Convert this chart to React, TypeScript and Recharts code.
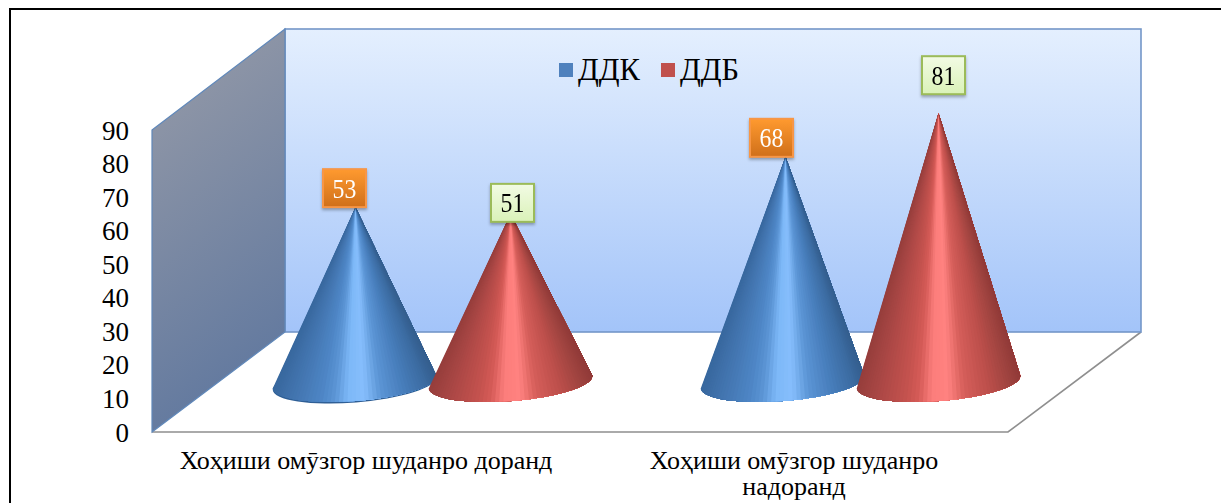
import React from "react";
import { BarChart, Bar, XAxis, YAxis, Legend, LabelList, Customized } from "recharts";

const categories = ["Хоҳиши омӯзгор шуданро доранд", "Хоҳиши омӯзгор шуданро надоранд"];
const seriesNames = ["ДДК", "ДДБ"];
const ddkValues = [53, 68];
const ddbValues = [51, 81];
const yTicks = [0, 10, 20, 30, 40, 50, 60, 70, 80, 90];

const chartData = categories.map((category, i) => ({ category, ddk: ddkValues[i], ddb: ddbValues[i] }));

const W = 1221;
const H = 503;
const PLOT = { left: 152, right: 1008, top: 130, bottom: 432 };
const DEPTH_X = 133;
const DEPTH_Y = 100;
const SHIFT_X = DEPTH_X / 2;
const FONT = "'Liberation Serif', serif";

// ---- cone shading: stops are [position across the cone, r, g, b]
type Stop = [number, number, number, number];
const blueStops: Stop[] = [
  [0, 56, 104, 158], [0.12, 66, 116, 174], [0.3, 78, 134, 198], [0.38, 92, 150, 214], [0.46, 125, 184, 248],
  [0.56, 134, 190, 252], [0.66, 92, 150, 214], [0.8, 72, 126, 188], [0.93, 60, 108, 162], [1, 52, 94, 142],
];
const redStops: Stop[] = [
  [0, 150, 62, 60], [0.14, 172, 72, 70], [0.3, 196, 82, 78], [0.38, 214, 92, 88], [0.46, 252, 126, 124],
  [0.56, 255, 130, 128], [0.66, 214, 94, 90], [0.8, 190, 80, 76], [0.93, 160, 68, 64], [1, 145, 58, 56],
];

function shade(stops: Stop[], u: number) {
  for (let i = 1; i < stops.length; i++) {
    if (u <= stops[i][0]) {
      const a = stops[i - 1];
      const b = stops[i];
      const k = (u - a[0]) / (b[0] - a[0]);
      const c = [1, 2, 3].map((j) => Math.round(a[j] + (b[j] - a[j]) * k));
      return `rgb(${c[0]},${c[1]},${c[2]})`;
    }
  }
  const l = stops[stops.length - 1];
  return `rgb(${l[1]},${l[2]},${l[3]})`;
}

const APEX_LIFT = 47;
const BASE_LIFT = 50;
const RY = 19;
const TILT = (-4.5 * Math.PI) / 180;
const SLICES = 60;
const ddkLean = [1, 3];
const ddbLean = [0, 0];

function Cone(props: any) {
  const { x, y, width, stops, rim, index, lean } = props;
  const cx = x + width / 2 + SHIFT_X;
  const R = width / 2 + 4;
  const cy = PLOT.bottom - BASE_LIFT;
  const apexX = cx + lean[index];
  const apexY = y - APEX_LIFT;
  const pts: number[][] = [];
  for (let i = 0; i <= SLICES; i++) {
    const phi = Math.PI * (1 - i / SLICES);
    const ex = R * Math.cos(phi);
    const ey = RY * Math.sin(phi);
    pts.push([cx + ex * Math.cos(TILT) - ey * Math.sin(TILT), cy + ex * Math.sin(TILT) + ey * Math.cos(TILT)]);
  }
  // each slice is painted from its own left edge to the far right, so no seams let the background through
  const slices = [];
  for (let i = 0; i < SLICES; i++) {
    const u = ((pts[i][0] + pts[i + 1][0]) / 2 - (cx - R)) / (2 * R);
    const col = shade(stops, Math.max(0, Math.min(1, u)));
    const path = pts.slice(i).map((p) => `${p[0]},${p[1]}`).join(" ");
    slices.push(<polygon key={i} points={`${apexX},${apexY} ${path}`} fill={col} />);
  }
  return (
    <g>
      {rim && index === 0 ? (
        <ellipse cx={cx} cy={cy + 1.5} rx={R} ry={RY} fill="#2f5f96" transform={`rotate(-4.5 ${cx} ${cy + 1.5})`} />
      ) : null}
      {slices}
    </g>
  );
}

// ---- walls and floor of the 3D box
function Box() {
  const { left: l, right: r, top: t, bottom: b } = PLOT;
  const backL = l + DEPTH_X;
  const backR = r + DEPTH_X;
  const backB = b - DEPTH_Y;
  const backT = t - 101;
  return (
    <g>
      <defs>
        <linearGradient id="backWall" x1="0" y1="0" x2="0" y2="1">
          <stop offset="0" stopColor="#e4effe" />
          <stop offset="1" stopColor="#a3c4f9" />
        </linearGradient>
        <linearGradient id="sideWall" x1="0" y1="0" x2="0.25" y2="1">
          <stop offset="0" stopColor="#989ca8" />
          <stop offset="1" stopColor="#62799f" />
        </linearGradient>
        <linearGradient id="orangeBox" x1="0" y1="0" x2="0" y2="1">
          <stop offset="0" stopColor="#ff9a2f" />
          <stop offset="1" stopColor="#cf6f1a" />
        </linearGradient>
        <linearGradient id="greenBox" x1="0" y1="0" x2="0" y2="1">
          <stop offset="0" stopColor="#f2fbe4" />
          <stop offset="1" stopColor="#daf2b8" />
        </linearGradient>
      </defs>
      <polygon points={`${l},${b} ${backL},${backB} ${backR},${backB} ${r},${b}`} fill="#ffffff" stroke="none" />
      <polyline points={`${l},${b} ${r},${b} ${backR},${backB}`} fill="none" stroke="#8f8f8f" strokeWidth={1.6} />
      <rect x={backL} y={backT} width={backR - backL} height={backB - backT} fill="url(#backWall)" stroke="#7496c8" strokeWidth={1.6} />
      <polygon points={`${l},${t} ${backL},${backT} ${backL},${backB} ${l},${b}`} fill="url(#sideWall)" stroke="#6088ba" strokeWidth={1.2} />
    </g>
  );
}

// ---- x tick labels wrapped as the original wraps them
const WRAP_CHARS = 30;
function wrapLabel(s: string) {
  const lines: string[] = [];
  let cur = "";
  s.split(" ").forEach((w) => {
    const next = cur ? cur + " " + w : w;
    if (next.length > WRAP_CHARS) {
      lines.push(cur);
      cur = w;
    } else cur = next;
  });
  lines.push(cur);
  return lines;
}

function XTick(props: any) {
  const { x, y, payload } = props;
  return (
    <text x={x} y={y} textAnchor="middle" fontFamily={FONT} fontSize={26} fill="#000">
      {wrapLabel(payload.value).map((line, i) => (
        <tspan key={i} x={x} y={y + 29 + i * 26}>
          {line}
        </tspan>
      ))}
    </text>
  );
}

// ---- manually placed data labels (nudges from each cone's tip)
const ddkNudges = [[-10, -19], [-11, -19]];
const ddbNudges = [[2, -11], [5, -38]];

function makeLabel(values: number[], nudges: number[][], fill: string, stroke: string, textColor: string) {
  return function DataLabel(props: any) {
    const { x, y, width, index } = props;
    const value = values[index];
    const cx = x + width / 2 + SHIFT_X + nudges[index][0];
    const cy = y - APEX_LIFT + nudges[index][1];
    return (
      <g style={{ filter: "drop-shadow(0px 2px 1.5px rgba(0,0,0,0.3))" }}>
        <rect x={cx - 21.5} y={cy - 19} width={43} height={38} fill={fill} stroke={stroke} strokeWidth={2} />
        <text
          transform={`translate(${cx} ${cy + 9.5}) scale(0.85 1)`}
          textAnchor="middle"
          fontFamily={FONT}
          fontSize={28}
          fill={textColor}
        >
          {value}
        </text>
      </g>
    );
  };
}

function LegendBox(props: any) {
  const items = props.payload || [];
  return (
    <div style={{ display: "flex", alignItems: "center", fontFamily: FONT, fontSize: 30.5, color: "#000", lineHeight: "30px" }}>
      {items.map((it: any, i: number) => (
        <div key={i} style={{ display: "flex", alignItems: "center", marginRight: 21 }}>
          <span style={{ display: "inline-block", width: 14, height: 14, background: it.color, marginRight: 5 }} />
          <span>{it.value}</span>
        </div>
      ))}
    </div>
  );
}

export default function App() {
  return (
    <div style={{ position: "absolute", left: 0, top: 0, width: W, height: H, overflow: "hidden", background: "#fff" }}>
      <BarChart
        width={W}
        height={H}
        data={chartData}
        margin={{ left: PLOT.left - 60, right: W - PLOT.right, top: PLOT.top, bottom: 0 }}
        barCategoryGap={58}
        barGap={0}
      >
        <Customized component={Box} />
        <XAxis dataKey="category" height={H - PLOT.bottom} axisLine={false} tickLine={false} interval={0} tick={<XTick />} />
        <YAxis
          width={60}
          domain={[0, 90]}
          ticks={yTicks}
          interval={0}
          axisLine={false}
          tickLine={false}
          tickSize={0}
          tickMargin={23}
          tick={{ fontFamily: FONT, fontSize: 27, fill: "#000" }}
        />
        <Legend
          layout="horizontal"
          verticalAlign="middle"
          itemSorter={null as any}
          content={<LegendBox />}
          wrapperStyle={{ position: "absolute", left: 559, top: 55, width: 300, height: 30 }}
        />
        <Bar
          dataKey="ddk"
          name={seriesNames[0]}
          fill="#4f81bd"
          isAnimationActive={false}
          shape={(p: any) => <Cone {...p} stops={blueStops} lean={ddkLean} rim />}
        >
          <LabelList dataKey="ddk" content={makeLabel(ddkValues, ddkNudges, "url(#orangeBox)", "#f79646", "#fff")} />
        </Bar>
        <Bar
          dataKey="ddb"
          name={seriesNames[1]}
          fill="#c0504d"
          isAnimationActive={false}
          shape={(p: any) => <Cone {...p} stops={redStops} lean={ddbLean} />}
        >
          <LabelList dataKey="ddb" content={makeLabel(ddbValues, ddbNudges, "url(#greenBox)", "#9bbb59", "#000")} />
        </Bar>
      </BarChart>
      <div style={{ position: "absolute", left: 9, top: 8, right: -4, bottom: -4, borderLeft: "2px solid #000", borderTop: "2px solid #000", pointerEvents: "none" }} />
    </div>
  );
}
